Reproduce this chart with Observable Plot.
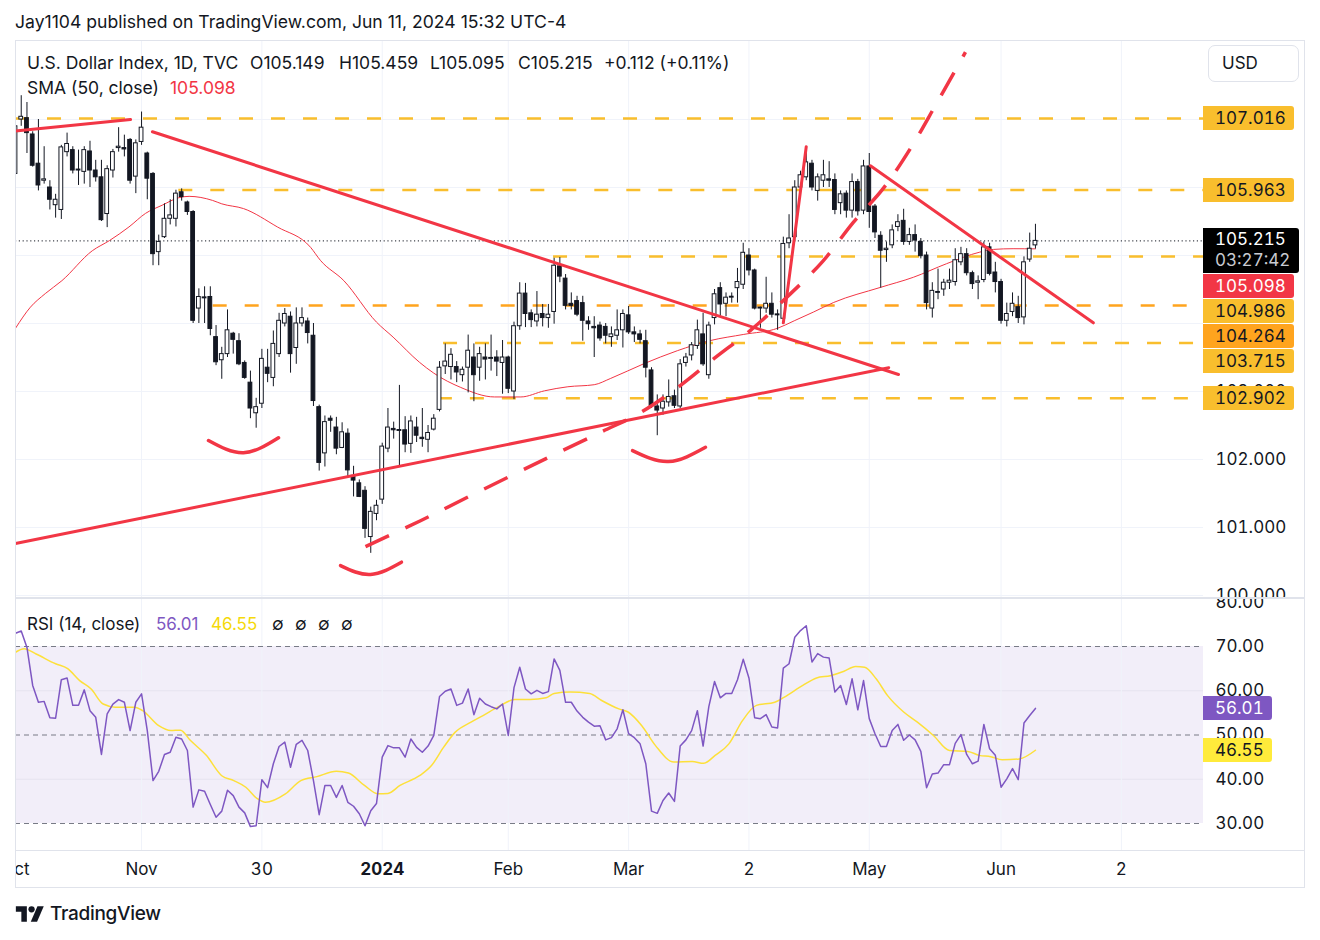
<!DOCTYPE html>
<html>
<head>
<meta charset="utf-8">
<script src="https://cdn.jsdelivr.net/npm/d3@7"></script>
<script src="https://cdn.jsdelivr.net/npm/@observablehq/plot@0.6"></script>
<style>
  html, body { margin:0; padding:0; background:#fff; }
  body { width:1320px; height:940px; position:relative; overflow:hidden;
         font-family: Inter, Roboto, "Liberation Sans", sans-serif; color:#131722;
         font-variant-numeric: tabular-nums; }
  .abs { position:absolute; white-space:nowrap; }
  .prop { font-variant-numeric: normal; }
  .box { position:absolute; left:1203px; height:24px; line-height:24px; font-size:17px;
         padding:0 8px 0 12px; border-radius:0 3px 3px 0; color:#131722; white-space:nowrap;
         box-shadow: 0 1px 0 0 #fff; }
  .pbox { width:91px; box-sizing:border-box; }
  .line { position:absolute; background:#e0e3eb; }
</style>
</head>
<body>
<div class="abs prop" style="left:15px;top:11px;font-size:17.6px;line-height:22px;">Jay1104 published on TradingView.com, Jun 11, 2024 15:32 UTC-4</div>
<div id="price" class="abs" style="left:15px;top:40px;"></div>
<div id="rsi" class="abs" style="left:15px;top:598px;"></div>
<div id="overlay"></div>
<div class="line" style="left:15px;top:40px;width:1290px;height:1px;"></div>
<div class="line" style="left:15px;top:887px;width:1290px;height:1px;"></div>
<div class="line" style="left:15px;top:40px;width:1px;height:848px;"></div>
<div class="line" style="left:1304px;top:40px;width:1px;height:848px;"></div>
<div class="line" style="left:15px;top:597px;width:1290px;height:2px;"></div>
<div class="line" style="left:15px;top:850px;width:1290px;height:1px;"></div>
<div class="abs" style="left:15px;top:903px;">
  <svg width="30" height="22" viewBox="0 0 36 28"><path d="M14 24H7V11H0V4h14v20z" fill="#131722"/><circle cx="20" cy="8" r="4" fill="#131722"/><path d="M27 24h-8l8.5-20h8L27 24z" fill="#131722"/></svg>
</div>
<div class="abs" style="left:50px;top:902px;font-size:19px;line-height:24px;font-weight:500;letter-spacing:-0.3px;">TradingView</div>
<script>
// ---------- DATA ----------
const opens  = [106.20,107.00,107.02,106.78,106.35,106.10,106.00,105.74,105.67,106.52,106.55,106.26,106.23,106.53,106.25,106.15,105.61,106.25,106.58,106.58,106.70,106.16,106.67,106.50,106.20,105.05,105.27,105.54,105.54,105.93,105.78,105.64,104.22,104.38,104.39,103.80,103.46,103.55,103.85,103.74,103.42,103.13,102.68,102.82,103.35,103.20,103.55,104.00,104.10,103.64,104.00,104.03,103.82,102.77,102.09,102.60,102.47,102.17,102.38,101.76,101.65,101.54,100.86,101.20,101.41,102.16,102.45,102.42,102.43,102.23,102.47,102.32,102.29,102.44,102.73,103.37,103.36,103.36,103.24,103.35,103.50,103.35,103.50,103.48,103.50,103.42,103.50,103.00,103.96,104.44,104.15,104.03,104.14,104.08,104.17,104.84,104.66,104.29,104.33,104.30,104.03,103.95,103.97,103.95,103.80,103.82,103.90,104.12,103.87,103.84,103.74,103.31,102.78,102.75,102.84,102.93,102.78,103.42,103.53,103.67,103.84,103.24,104.08,104.52,104.29,104.38,104.52,104.57,105.00,104.78,104.22,104.22,104.29,104.13,104.07,105.18,105.27,106.00,106.15,106.35,105.95,106.10,106.12,106.11,105.77,105.91,105.66,106.08,105.66,106.31,105.72,105.29,105.08,105.15,105.42,105.51,105.20,105.30,105.20,105.00,104.22,104.45,104.50,104.60,104.61,104.90,105.02,104.74,104.60,104.64,105.12,104.75,104.61,104.04,104.17,104.24,104.09,104.94,105.149];
const highs  = [106.95,107.35,107.25,106.82,107.00,106.60,106.10,105.90,106.62,106.80,106.60,106.55,106.60,106.68,106.40,106.40,106.32,106.56,106.88,106.77,106.72,106.70,107.11,106.52,106.22,105.30,105.76,105.82,105.96,105.98,105.80,105.66,104.51,104.54,104.54,103.97,103.65,104.20,103.87,103.85,103.45,103.30,102.90,103.62,103.62,103.89,104.15,104.22,104.17,104.23,104.23,104.08,104.00,102.80,102.64,102.64,102.62,102.54,102.45,101.90,101.70,101.60,101.30,101.40,102.24,102.75,102.55,103.09,102.63,102.64,102.62,102.75,102.50,102.66,103.44,103.70,103.63,103.44,103.36,103.83,103.70,103.65,103.70,103.83,103.60,103.75,103.52,104.02,104.60,104.59,104.20,104.47,104.28,104.28,104.96,104.97,104.72,104.45,104.40,104.40,104.10,104.10,104.02,104.00,103.95,104.20,104.20,104.25,103.95,103.90,103.90,103.35,102.95,102.95,103.17,103.02,103.47,103.56,103.72,104.05,104.15,104.02,104.50,104.60,104.45,104.45,104.81,105.18,105.10,104.80,104.24,104.68,104.45,104.20,105.27,105.60,106.10,106.24,106.52,106.40,106.20,106.40,106.38,106.20,105.95,105.95,106.20,106.12,106.40,106.50,105.75,105.35,105.20,105.45,105.60,105.68,105.40,105.45,105.25,105.05,104.60,104.80,104.65,104.80,105.10,105.12,105.10,104.77,104.70,105.20,105.18,104.90,104.65,104.30,104.45,104.40,104.98,105.33,105.459];
const lows   = [106.15,106.90,106.50,106.30,105.95,106.05,105.67,105.55,105.53,106.45,106.20,106.03,106.05,106.00,106.08,105.50,105.41,106.14,106.52,106.45,106.05,105.91,106.62,105.82,104.85,104.85,105.25,105.45,105.42,105.80,105.59,104.00,104.00,104.00,103.82,103.38,103.18,103.50,103.55,103.38,103.18,102.60,102.46,102.75,103.13,103.07,103.50,103.95,103.27,103.40,103.95,103.70,102.78,101.83,101.89,102.40,102.07,102.16,101.74,101.45,101.44,100.84,100.62,101.10,101.34,102.10,102.30,101.91,102.10,102.09,102.25,102.18,102.10,102.42,102.70,103.25,103.17,103.13,103.14,102.98,102.85,103.15,103.17,103.30,103.22,102.96,102.97,102.88,103.90,103.94,103.94,103.95,103.95,103.93,103.99,104.60,104.20,104.20,104.10,103.74,103.90,103.50,103.74,103.70,103.65,103.75,103.64,103.84,103.72,103.70,103.20,102.75,102.35,102.65,102.77,102.75,102.75,103.36,103.45,103.62,103.37,103.18,103.98,104.10,104.10,104.30,104.30,104.50,104.70,104.20,103.93,104.15,104.08,103.90,104.05,105.10,105.20,105.90,106.10,105.95,105.80,106.00,106.00,105.60,105.60,105.55,105.55,105.58,105.60,105.40,105.25,104.52,104.90,105.10,105.35,105.15,105.15,105.05,104.95,104.20,104.08,104.35,104.40,104.50,104.55,104.85,104.70,104.50,104.35,104.60,104.70,104.45,103.99,103.95,104.10,104.00,103.98,104.90,105.095];
const closes = [106.90,107.04,106.80,106.32,106.03,106.12,105.82,105.82,106.59,106.64,106.25,106.25,106.55,106.25,106.15,105.52,106.27,106.52,106.60,106.56,106.10,106.65,106.88,106.13,105.02,105.20,105.54,105.59,105.91,105.86,105.64,104.04,104.39,104.37,103.92,103.43,103.55,103.90,103.76,103.40,103.20,102.75,102.77,103.48,103.26,103.70,104.04,104.14,103.55,104.00,104.08,103.86,102.86,101.95,102.55,102.57,102.16,102.40,101.84,101.69,101.45,100.98,101.23,101.32,102.19,102.47,102.43,102.42,102.22,102.56,102.35,102.30,102.39,102.60,103.35,103.44,103.54,103.28,103.32,103.60,103.24,103.55,103.47,103.49,103.44,103.50,103.04,103.96,104.44,104.14,104.05,104.13,104.08,104.13,104.85,104.69,104.26,104.26,104.13,104.04,103.99,103.93,103.78,103.82,103.84,103.90,104.14,103.87,103.84,103.76,103.35,102.79,102.72,102.85,102.92,102.79,103.40,103.50,103.68,103.90,103.40,103.97,104.43,104.28,104.38,104.38,104.61,105.04,104.78,104.22,104.22,104.29,104.13,104.12,105.17,105.25,106.00,106.18,106.37,106.00,106.15,106.18,106.10,105.67,105.90,105.66,106.08,105.65,106.31,105.64,105.34,105.07,105.10,105.37,105.49,105.20,105.30,105.22,104.99,104.30,104.48,104.45,104.60,104.63,104.93,105.02,104.74,104.58,104.62,105.12,104.73,104.61,104.04,104.14,104.29,104.08,104.90,105.10,105.215];

const smaIdx = [0,2.6,5.2,8.1,13.4,16.4,19.8,22.7,25.6,28.5,30.3,34.4,36,39.8,45.7,51.5,53.2,57.3,63,65.9,70.5,73,77.7,83.6,88.2,92.3,96.4,101,103.8,109.7,115.5,121.3,127.1,133,135.9,139.3,142.8,150.9,156.7,162.5,168.3,170.7,174.1,178];
const smaVal = [103.93,104.24,104.44,104.63,105.07,105.22,105.42,105.62,105.74,105.85,105.87,105.81,105.76,105.69,105.42,105.12,104.93,104.63,104.02,103.80,103.43,103.27,103.06,102.92,102.92,103.01,103.07,103.10,103.19,103.41,103.60,103.75,103.84,103.93,104.04,104.17,104.31,104.53,104.68,104.88,105.05,105.09,105.10,105.098];

const rsiVals = [73.0,73.5,69.8,61.2,57.4,57.6,53.9,53.8,62.5,62.9,56.7,56.7,60.2,55.5,54.0,45.6,54.8,57.0,58.0,57.4,51.0,57.4,59.3,51.0,39.7,41.8,45.6,46.1,49.5,49.1,46.5,33.7,37.6,37.3,34.3,31.4,32.8,37.5,36.3,33.7,32.4,29.3,29.5,39.9,38.1,43.5,47.4,48.4,42.7,47.9,48.8,46.5,39.7,32.0,38.6,38.6,35.9,38.6,34.8,33.9,32.2,29.5,32.9,34.5,45.0,47.6,47.1,47.1,45.0,49.1,47.2,46.1,47.5,49.9,58.7,59.9,60.4,56.7,57.2,60.4,54.6,58.3,57.0,56.4,55.9,57.0,49.9,60.7,65.3,60.4,59.3,60.1,59.4,59.8,67.2,64.6,57.4,57.4,55.4,54.0,52.9,52.0,52.1,48.9,49.4,51.4,55.7,50.3,49.4,48.0,43.5,32.8,32.3,35.2,36.9,35.0,47.5,48.9,51.0,55.5,47.5,56.4,62.1,58.4,59.4,59.4,62.5,67.1,62.9,53.9,53.7,54.6,51.8,51.6,65.1,66.1,72.1,73.6,74.7,66.5,68.4,67.6,67.4,59.7,61.2,56.9,62.7,55.7,62.3,53.7,50.3,47.4,47.4,51.0,52.4,48.8,50.0,48.9,46.3,38.1,41.2,41.4,43.3,43.3,48.1,50.1,45.6,43.5,44.1,52.4,46.9,45.4,38.2,40.1,42.4,39.9,52.7,54.4,56.01];
const rsiMaIdx = [0,1.5,3.6,7.0,9.1,11.2,13.2,15.3,17.4,20.8,22.2,25.0,27.1,28.8,30.5,33.3,36.0,38.1,40.2,42.2,43.6,47.1,49.8,52.6,56.0,58.1,60.9,63.3,65.0,67.1,70.5,72.6,74.7,76.7,79.5,81.6,84.3,87.1,89.8,92.6,94.0,96.8,100.2,102.3,105.3,106.9,109.3,111.7,114.9,118.1,120.1,122.1,124.5,126.9,129.3,132.5,134.1,137.4,139.8,142.2,144.6,146.6,148.2,150.2,152.2,155.0,157.4,160.2,163.0,166.2,168.2,170.2,172.2,175.2,178];
const rsiMaVal = [68.7,69.5,68.3,66.1,65.0,62.3,60.4,57.0,56.3,56.3,55.5,52.1,51.0,51.1,48.8,45.4,40.8,39.7,38.2,35.6,34.8,36.7,39.7,40.6,41.8,41.4,38.6,36.7,36.8,38.6,40.8,43.1,47.2,50.6,52.9,54.4,56.4,58.0,58.0,58.4,59.4,59.7,59.4,57.8,55.9,55.2,52.1,47.6,43.9,44.0,43.6,45.4,48.0,53.3,56.7,57.4,58.5,61.2,62.9,63.4,64.4,65.5,65.3,62.7,58.9,55.2,52.9,49.9,46.5,46.3,45.4,45.1,44.4,44.6,46.55];

const timeTickIdx = [0,22,43,64,86,107,128,149,172,193];
const timeTickLabels = ["Oct","Nov","30","2024","Feb","Mar","2","May","Jun","2"];
const boldTickIdx = [64];
const priceTicks = [100,101,102,103,104,105,106,107];
const rsiTicks = [30,40,50,60,70,80];
const rsiDashed = [30,50,70];
const rsiSolidGrid = [40,60];
const rsiBand = [{lo:30, hi:70}];

const levelValues = [107.016,105.963,104.986,103.715,102.902];
const levelStart  = [0,28.5,93.9,74.7,73.8];
const orangeLevel = [{v:104.264, s:34.5}];
const lastPrice = 105.215, lastCountdown = "03:27:42", smaLast = 105.098;
const rsiLast = 56.01, rsiMaLast = 46.55;

// drawings (bar index, price)
const trendA = [[0,106.83],[20.07,107.0]];
const trendB = [[23.9,106.82],[154.1,103.25]];
const trendC = [[0,100.765],[152.4,103.35]];
const trendD = [[134.0,104.01],[138.0,106.60]];
const trendE = [[149.2,106.32],[188.1,104.01]];
const dashCurve = [[61.08,100.72],[70.68,101.10],[81.15,101.54],[92.50,102.01],[102.09,102.40],[109.08,102.69],[116.06,103.09],[121.99,103.49],[128.27,103.90],[134.90,104.41],[140.84,104.91],[146.25,105.49],[151.48,105.99],[156.37,106.60],[160.56,107.21],[165.79,107.99]];
const arc1 = [[33.68,102.28],[39.79,102.10],[45.9,102.32]];
const arc2 = [[56.72,100.44],[61.95,100.31],[67.36,100.49]];
const arc3 = [[107.68,102.13],[113.96,101.97],[120.42,102.18]];

// ---------- CHART ----------
const FONT = "Inter, Roboto, 'Liberation Sans', sans-serif";
const RED = "#f23645", INK = "#131722", GRID = "#f0f3fa";
const YEL = "#f9be2d", ORA = "#ffa41e";
const W = 1290, RIGHT = 102;
const xDomain = [0, 207.33];
const xEnd = () => xDomain[1];

const candles = closes.map((c, i) => ({i, o: opens[i], h: highs[i], l: lows[i], c}));
const up = candles.filter(d => d.c >= d.o), down = candles.filter(d => d.c < d.o);
const bodyLo = d => Math.min(d.o, d.c);
const bodyHi = d => Math.max(d.o, d.c, Math.min(d.o, d.c) + 0.014);
const px = d => d[0], py = d => d[1];
const seg = (pts, extra = {}) => Plot.line(pts, {x: px, y: py, stroke: RED, strokeWidth: 3, strokeLinecap: "round", ...extra});
const levels = levelValues.map((v, k) => ({v, s: levelStart[k]}));

const price = Plot.plot({
  width: W, height: 558, marginLeft: 0, marginRight: RIGHT, marginTop: 0, marginBottom: 0,
  x: {domain: xDomain, axis: null, label: null},
  y: {domain: [99.956, 108.162], axis: null, label: null},
  style: {fontFamily: FONT, fontSize: "17px", color: INK, background: "transparent"},
  marks: [
    Plot.gridY(priceTicks, {stroke: GRID, strokeOpacity: 1}),
    Plot.gridX(timeTickIdx.slice(1), {stroke: GRID, strokeOpacity: 1}),
    Plot.axisY(priceTicks, {anchor: "right", tickSize: 0, tickPadding: 12, textAnchor: "start",
      tickFormat: d3.format(".3f"), fontSize: 17, fill: INK}),
    Plot.ruleY(levels, {y: "v", x1: "s", x2: xEnd, stroke: YEL, strokeWidth: 2.5, strokeDasharray: "14,18"}),
    Plot.ruleY(orangeLevel, {y: "v", x1: "s", x2: xEnd, stroke: ORA, strokeWidth: 2.5, strokeDasharray: "14,18"}),
    Plot.ruleY([lastPrice], {stroke: INK, strokeWidth: 1, strokeDasharray: "1.2,2.6"}),
    Plot.line(smaIdx.map((x, k) => [x, smaVal[k]]), {x: px, y: py, stroke: RED, strokeWidth: 1, curve: "monotone-x"}),
    Plot.ruleX(candles, {x: "i", y1: "l", y2: "h", stroke: INK, strokeWidth: 1}),
    Plot.rect(down, {x1: d => d.i - 0.33, x2: d => d.i + 0.33, y1: bodyLo, y2: bodyHi, fill: INK, stroke: INK, strokeWidth: 1}),
    Plot.rect(up, {x1: d => d.i - 0.33, x2: d => d.i + 0.33, y1: bodyLo, y2: bodyHi, fill: "#ffffff", stroke: INK, strokeWidth: 1}),
    seg(trendA), seg(trendB), seg(trendC), seg(trendD), seg(trendE),
    seg(dashCurve, {curve: "catmull-rom", strokeWidth: 3.5, strokeDasharray: "26,18", strokeLinecap: "butt"}),
    seg(arc1, {curve: "natural", strokeWidth: 3.5}),
    seg(arc2, {curve: "natural", strokeWidth: 3.5}),
    seg(arc3, {curve: "natural", strokeWidth: 3.5})
  ]
});
document.getElementById("price").appendChild(price);

const rsiPts = rsiVals.map((v, i) => [i, v]);
const rsiMaPts = rsiMaIdx.map((x, k) => [x, rsiMaVal[k]]);
const tickLabel = d3.scaleOrdinal(timeTickIdx, timeTickLabels);
const rsi = Plot.plot({
  width: W, height: 290, marginLeft: 0, marginRight: RIGHT, marginTop: 0, marginBottom: 38,
  x: {domain: xDomain, axis: null, label: null},
  y: {domain: [23.9, 80.85], axis: null, label: null},
  style: {fontFamily: FONT, fontSize: "17px", color: INK, background: "transparent"},
  marks: [
    Plot.rect(rsiBand, {x1: () => xDomain[0], x2: xEnd, y1: "lo", y2: "hi", fill: "#7e57c2", fillOpacity: 0.1}),
    Plot.gridY(rsiSolidGrid, {stroke: "#e6e3ef", strokeOpacity: 1}),
    Plot.gridX(timeTickIdx.slice(1), {stroke: GRID, strokeOpacity: 1}),
    Plot.ruleY(rsiDashed, {stroke: "#787b86", strokeWidth: 1, strokeDasharray: "5,4"}),
    Plot.line(rsiMaPts, {x: px, y: py, stroke: "#fde03a", strokeWidth: 1.5, curve: "monotone-x"}),
    Plot.line(rsiPts, {x: px, y: py, stroke: "#7e57c2", strokeWidth: 1.5}),
    Plot.axisY(rsiTicks, {anchor: "right", tickSize: 0, tickPadding: 12, textAnchor: "start",
      tickFormat: d3.format(".2f"), fontSize: 17, fill: INK}),
    Plot.axisX(timeTickIdx.filter(t => !boldTickIdx.includes(t)), {tickSize: 0, tickPadding: 12, fontSize: 17, fill: INK, tickFormat: t => tickLabel(t)}),
    Plot.axisX(boldTickIdx, {tickSize: 0, tickPadding: 12, fontSize: 17, fill: INK, fontWeight: "bold", tickFormat: t => tickLabel(t)})
  ]
});
document.getElementById("rsi").appendChild(rsi);

// ---------- OVERLAYS (positioned from the chart scales) ----------
const ov = document.getElementById("overlay");
function add(html, style) { const d = document.createElement("div"); d.innerHTML = html; Object.assign(d.style, style); ov.appendChild(d); return d; }
const PT = 40, RT = 598;
const ys = v => PT + price.scale("y").apply(v);
const yr = v => RT + rsi.scale("y").apply(v);

// legends
const legend = (left, top, html, color, size) => add(html, {position: "absolute", left: left + "px", top: top + "px",
  fontSize: (size || 17) + "px", lineHeight: "22px", color: color || INK, whiteSpace: "nowrap", fontVariantNumeric: "normal"});
legend(27, 52, "U.S. Dollar Index, 1D, TVC", null, 17.5);
legend(250, 52, "O105.149", null, 17.5); legend(339, 52, "H105.459", null, 17.5); legend(430, 52, "L105.095", null, 17.5);
legend(518, 52, "C105.215", null, 17.5); legend(604, 52, "+0.112 (+0.11%)", null, 17.5);
legend(27, 77, "SMA (50, close)", null, 17.5); legend(170, 77, smaLast.toFixed(3), RED, 17.5);
legend(27, 613, "RSI (14, close)"); legend(156, 613, rsiLast.toFixed(2), "#7e57c2"); legend(211, 613, rsiMaLast.toFixed(2), "#f5d90a");
["∅","∅","∅","∅"].forEach((s, k) => legend(272 + k * 23, 613, s));

// USD button
add("USD", {position: "absolute", left: "1208px", top: "45px", width: "91px", height: "37px", boxSizing: "border-box",
  border: "1px solid #e0e3eb", borderRadius: "7px", background: "#fff", fontSize: "17px", lineHeight: "35px", paddingLeft: "13px", color: INK});

// price-scale labels with simple push-down collision layout
const labels = [
  ...levelValues.map(v => ({v, bg: YEL, fg: INK})),
  {v: orangeLevel[0].v, bg: ORA, fg: INK},
  {v: smaLast, bg: RED, fg: "#fff"},
  {v: lastPrice, bg: "#000", fg: "#fff", last: true}
].map(d => ({...d, h: d.last ? 45 : 24, want: ys(d.v) - 12})).sort((a, b) => a.want - b.want);
let prevBottom = -1e9;
for (const d of labels) {
  d.top = Math.max(d.want, prevBottom + 1);
  prevBottom = d.top + d.h;
  if (d.last) {
    add(`<div>${d.v.toFixed(3)}</div><div style="color:#c9cbd1">${lastCountdown}</div>`,
      {position: "absolute", left: "1203px", top: d.top + "px", width: "96px", height: d.h + "px", boxSizing: "border-box",
       background: d.bg, color: d.fg, fontSize: "17px", lineHeight: "21px", padding: "1px 0 0 12px", borderRadius: "0 3px 3px 0",
       boxShadow: "0 1px 0 0 #fff"});
  } else {
    const el = add(d.v.toFixed(3), {}); el.className = "box pbox";
    Object.assign(el.style, {top: d.top + "px", background: d.bg, color: d.fg});
  }
}
// RSI labels
[{v: rsiLast, bg: "#7e57c2", fg: "#fff"}, {v: rsiMaLast, bg: "#ffeb3b", fg: INK}].forEach(d => {
  const el = add(d.v.toFixed(2), {}); el.className = "box";
  Object.assign(el.style, {top: (yr(d.v) - 12) + "px", background: d.bg, color: d.fg});
});
</script>
</body>
</html>
